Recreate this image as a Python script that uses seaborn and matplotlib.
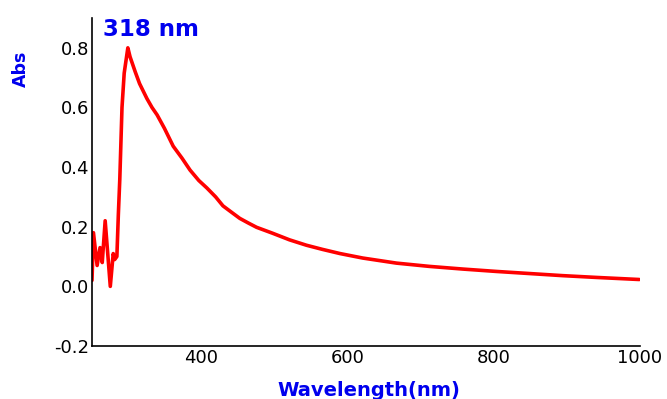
import matplotlib
matplotlib.use("Agg")
import matplotlib.pyplot as plt
import seaborn as sns
import pandas as pd

wavelength = [251, 253, 258, 262, 265, 269, 276, 280, 282, 285, 287, 289, 292, 295,
              300, 303, 310, 316, 321, 326, 333, 340, 350, 362, 374, 385, 397, 408, 420,
              430, 442, 453, 465, 476, 498, 521, 544, 566, 590, 621, 667, 712, 758,
              804, 849, 894, 940, 999]
absorbance = [0.02, 0.18, 0.07, 0.13, 0.08, 0.22, 0.0, 0.11, 0.09, 0.10, 0.24, 0.36, 0.60, 0.715,
              0.80, 0.77, 0.72, 0.68, 0.655, 0.63, 0.60, 0.575, 0.53, 0.47, 0.43, 0.39, 0.355, 0.33, 0.30,
              0.27, 0.248, 0.228, 0.212, 0.198, 0.178, 0.156, 0.138, 0.124, 0.11, 0.095, 0.078, 0.067, 0.058,
              0.05, 0.043, 0.036, 0.03, 0.023]
x_ticks = [400, 600, 800, 1000]
y_ticks = [-0.2, 0.0, 0.2, 0.4, 0.6, 0.8]
y_tick_labels = ["-0.2", "0.0", "0.2", "0.4", "0.6", "0.8"]

sns.set_style("white")
plt.rcParams['font.family'] = ['DejaVu Sans']

df = pd.DataFrame({"Wavelength": wavelength, "Abs": absorbance})

fig = plt.figure(figsize=(6.67, 3.99), dpi=100)
ax = fig.add_axes([92/667, 1-346/399, (640-92)/667, (346-18)/399])
sns.lineplot(data=df, x="Wavelength", y="Abs", ax=ax, color="#ff0000", linewidth=2.6, sort=False)

ax.set_xlim(251, 1000)
ax.set_ylim(-0.2, 0.9)
ax.set_xticks(x_ticks)
ax.set_xticklabels([str(t) for t in x_ticks], fontsize=13, color="black")
ax.set_yticks(y_ticks)
ax.set_yticklabels(y_tick_labels, fontsize=13, color="black")
ax.tick_params(axis='both', length=0, pad=2)
for s in ["top", "right"]:
    ax.spines[s].set_visible(False)
for s in ["left", "bottom"]:
    ax.spines[s].set_color("black")
    ax.spines[s].set_linewidth(1.2)
ax.set_xlabel("")
ax.set_ylabel("")

fig.text(369/667, 1-396/399, "Wavelength(nm)", color="#0000ee", fontsize=14,
         fontweight="bold", ha="center", va="baseline")
fig.text(21/667, 1-69/399, "Abs", color="#0000ee", fontsize=12.5, fontweight="bold",
         rotation=90, ha="center", va="center")
fig.text(103/667, 1-36/399, "318 nm", color="#0000ee", fontsize=16.5, fontweight="bold",
         ha="left", va="baseline")

fig.savefig("out.png", dpi=100, facecolor="white")
